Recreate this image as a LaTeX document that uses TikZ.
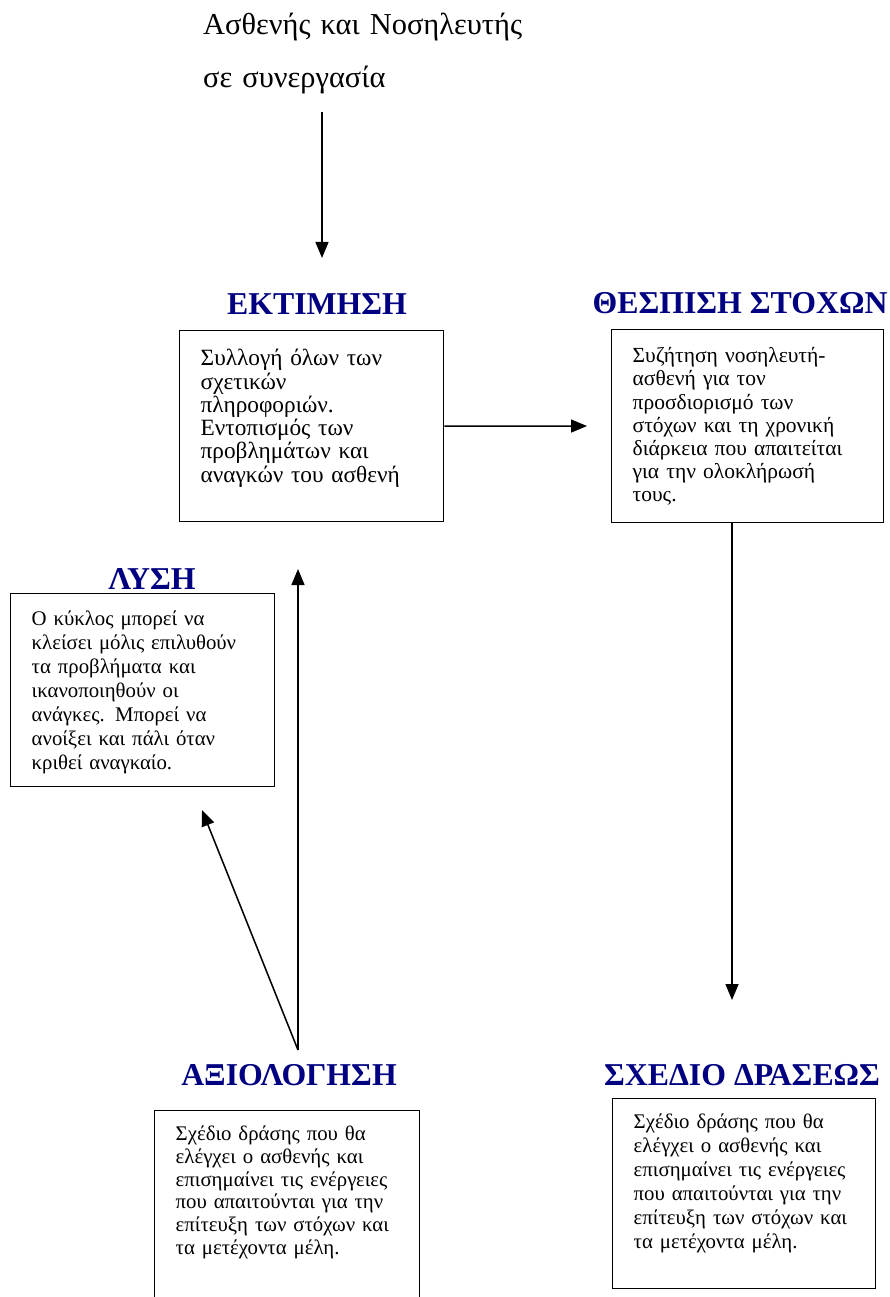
\documentclass[tikz,border=0pt]{standalone}
\usepackage{fontspec}
\setmainfont{Liberation Serif}
\usetikzlibrary{arrows.meta}
\definecolor{navy}{RGB}{0,0,128}
\tikzset{
 stepbox/.style={draw, line width=1.4pt, anchor=north west, inner xsep=21pt, inner ysep=0pt, align=left, font=\fontsize{21}{23.5}\selectfont},
 head/.style={anchor=base, text=navy, font=\bfseries\fontsize{31.8}{36}\selectfont},
 arr/.style={line width=1.5pt, -{Triangle[length=16pt,width=13pt]}}
}

\begin{document}
\begin{tikzpicture}[x=1pt,y=-1pt]
\useasboundingbox (0,0) rectangle (889,1297);
\node[anchor=base west, inner sep=0pt, text width=400pt, align=left, font=\fontsize{30.4}{53}\selectfont] (title) at (203,35) {Ασθενής και Νοσηλευτής\\σε συνεργασία};

\node[head] (hest) at (317,314) {ΕΚΤΙΜΗΣΗ};
\node[head] (hgoal) at (740,313) {ΘΕΣΠΙΣΗ ΣΤΟΧΩΝ};
\node[head] (hsol) at (152,589) {ΛΥΣΗ};
\node[head] (heval) at (289,1085) {ΑΞΙΟΛΟΓΗΣΗ};
\node[head] (hplan) at (742,1085) {ΣΧΕΔΙΟ ΔΡΑΣΕΩΣ};

\node[stepbox, font=\fontsize{23.3}{23.3}\selectfont, text width=222pt, text height=35pt, text depth=156pt] (est) at (179,330) {Συλλογή όλων των\\σχετικών\\πληροφοριών.\\Εντοπισμός των\\προβλημάτων και\\αναγκών του ασθενή};
\node[stepbox, font=\fontsize{21.5}{23.2}\selectfont, text width=230pt, text height=33pt, text depth=160pt] (goal) at (611,329) {Συζήτηση νοσηλευτή-\\ασθενή για τον\\προσδιορισμό των\\στόχων και τη χρονική\\διάρκεια που απαιτείται\\για την ολοκλήρωσή\\τους.};
\node[stepbox, font=\fontsize{20.8}{23.9}\selectfont, text width=222pt, text height=32pt, text depth=161pt] (sol) at (10,593) {Ο κύκλος μπορεί να\\κλείσει μόλις επιλυθούν\\τα προβλήματα και\\ικανοποιηθούν οι\\ανάγκες. Μπορεί να\\ανοίξει και πάλι όταν\\κριθεί αναγκαίο.};
\node[stepbox, font=\fontsize{20.8}{22.7}\selectfont, text width=223pt, text height=30pt, text depth=170pt] (eval) at (154,1110) {Σχέδιο δράσης που θα\\ελέγχει ο ασθενής και\\επισημαίνει τις ενέργειες\\που απαιτούνται για την\\επίτευξη των στόχων και\\τα μετέχοντα μέλη.};
\node[stepbox, font=\fontsize{20.8}{24}\selectfont, text width=221pt, text height=30pt, text depth=160pt] (plan) at (612,1098) {Σχέδιο δράσης που θα\\ελέγχει ο ασθενής και\\επισημαίνει τις ενέργειες\\που απαιτούνται για την\\επίτευξη των στόχων και\\τα μετέχοντα μέλη.};

\coordinate (t0) at (322,112);
\coordinate (t1) at (322,258);
\coordinate (goalin) at (587,426);
\coordinate (plandn) at (732,1000);
\coordinate (ev) at (298,1050);
\coordinate (solup) at (298,569);
\coordinate (solin) at (202,810);

\draw[arr] (t0) -- (t1);
\draw[arr] (est.east) -- (goalin);
\draw[arr] (goal.south -| plandn) -- (plandn);
\draw[arr] (ev) -- (solup);
\draw[arr] (ev) -- (solin);
\end{tikzpicture}
\end{document}
